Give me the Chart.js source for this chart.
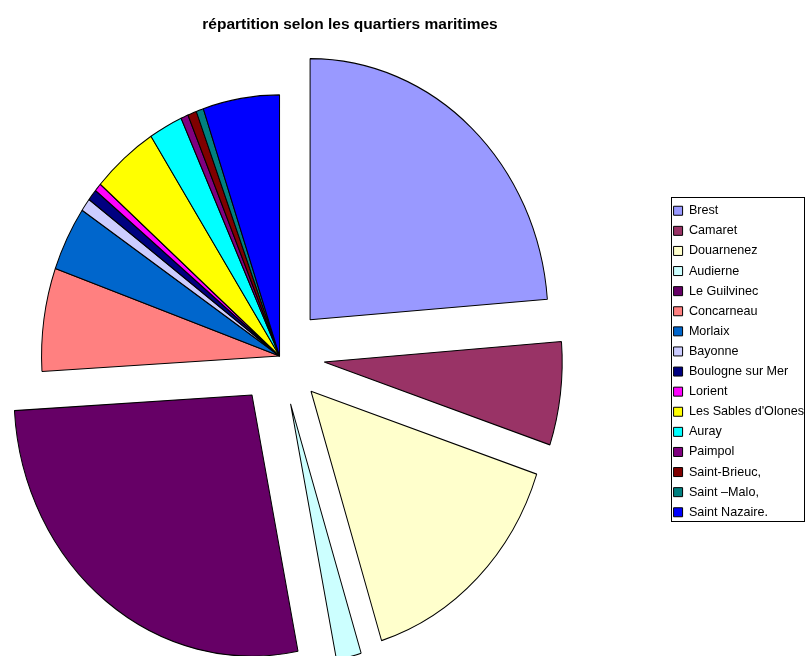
<!DOCTYPE html>
<html>
<head>
<meta charset="utf-8">
<script src="https://cdn.jsdelivr.net/npm/chart.js@4.4.1/dist/chart.umd.min.js"></script>
<style>
  html, body { margin: 0; padding: 0; background: #fff; }
  #wrap { position: relative; width: 805px; height: 656px; }
</style>
</head>
<body>
<div id="wrap"><canvas id="pie_chart"></canvas></div>
<script>
// quartiers maritimes, in legend order (clockwise from 12 o'clock)
const quartiers = [
	'Brest', 'Camaret', 'Douarnenez', 'Audierne', 'Le Guilvinec', 'Concarneau',
	'Morlaix', 'Bayonne', 'Boulogne sur Mer', 'Lorient', "Les Sables d'Olones",
	'Auray', 'Paimpol', 'Saint-Brieuc,', 'Saint \u2013Malo,', 'Saint Nazaire.'
];
// share of each quartier, %
const parts = [23.8, 6.4, 15.1, 1.7, 27.2, 6.4, 4.0, 0.8, 0.7, 0.5, 4.5, 2.3, 0.5, 0.6, 0.5, 5.2];

const couleurs = [
	'#9999ff', '#993366', '#ffffcc', '#ccffff', '#660066', '#ff8080',
	'#0066cc', '#ccccff', '#000080', '#ff00ff', '#ffff00',
	'#00ffff', '#800080', '#800000', '#008080', '#0000ff'
];
// pulled-out slices (px), the rest stay in place
const eclate = [45, 45, 45, 45, 45, 0, 0, 0, 0, 0, 0, 0, 0, 0, 0, 0];
const etirement = 1.097; // the original picture is a bit taller than wide

const explodePlugin = {
	id: 'eclate',
	afterDatasetsUpdate(chart) {
		const arcs = chart.getDatasetMeta(0).data;
		arcs.forEach((arc, i) => {
			const d = eclate[i] || 0;
			if (!d) return;
			const mid = (arc.startAngle + arc.endAngle) / 2;
			arc.x += Math.cos(mid) * d;
			arc.y += Math.sin(mid) * d;
		});
	},
	beforeDatasetsDraw(chart) {
		const a = chart.chartArea;
		const cx = (a.left + a.right) / 2;
		const cy = (a.top + a.bottom) / 2;
		const ctx = chart.ctx;
		ctx.save();
		ctx.translate(cx, cy);
		ctx.scale(1, etirement);
		ctx.translate(-cx, -cy);
	},
	afterDatasetsDraw(chart) {
		chart.ctx.restore();
	}
};

// empty box between the pie and the legend, so the pie sits left like in Excel
const spacerPlugin = {
	id: 'espace',
	beforeInit(chart) {
		Chart.layouts.addBox(chart, {
			position: 'right',
			weight: 0,
			fullSize: false,
			options: {},
			isHorizontal() { return false; },
			update(maxWidth, maxHeight) {
				this.width = 107;
				this.height = maxHeight;
			},
			draw() {}
		});
	}
};

const legendBoxPlugin = {
	id: 'cadreLegende',
	afterDraw(chart) {
		const boxes = chart.legend && chart.legend.legendHitBoxes;
		if (!boxes || !boxes.length) return;
		const first = boxes[0];
		const last = boxes[boxes.length - 1];
		const ctx = chart.ctx;
		const left = Math.round(first.left) - 2.5;
		const top = Math.round(first.top) - 6.5;
		const bottom = Math.round(last.top + last.height) + 2.5;
		ctx.save();
		ctx.strokeStyle = '#000';
		ctx.lineWidth = 1;
		ctx.strokeRect(left, top, chart.width - 0.5 - left, bottom - top);
		ctx.restore();
	}
};

Chart.defaults.font.family = '"Liberation Sans", Arial, sans-serif';
Chart.defaults.color = '#000';

new Chart(document.getElementById('pie_chart'), {
	type: 'pie',
	data: {
		labels: quartiers,
		datasets: [{
			data: parts,
			backgroundColor: couleurs,
			borderColor: '#000',
			borderWidth: 1,
			clip: false
		}]
	},
	options: {
		responsive: true,
		maintainAspectRatio: false,
		animation: false,
		events: [],
		radius: 238,
		layout: { padding: { left: -114, right: -9, top: 0, bottom: 0 } },
		plugins: {
			title: {
				display: true,
				text: 'répartition selon les quartiers maritimes',
				font: { size: 15.5, weight: 'bold' },
				color: '#000',
				padding: { top: 15.3, bottom: 22.1 }
			},
			legend: {
				position: 'right',
				fullSize: false,
				title: { display: true, text: '', font: { size: 5 }, padding: 2.5 },
				labels: {
					boxWidth: 9,
					boxHeight: 9,
					padding: 7.5,
					font: { size: 12.6 },
					color: '#000'
				}
			},
			tooltip: { enabled: false }
		}
	},
	plugins: [explodePlugin, spacerPlugin, legendBoxPlugin]
});
</script>
</body>
</html>
